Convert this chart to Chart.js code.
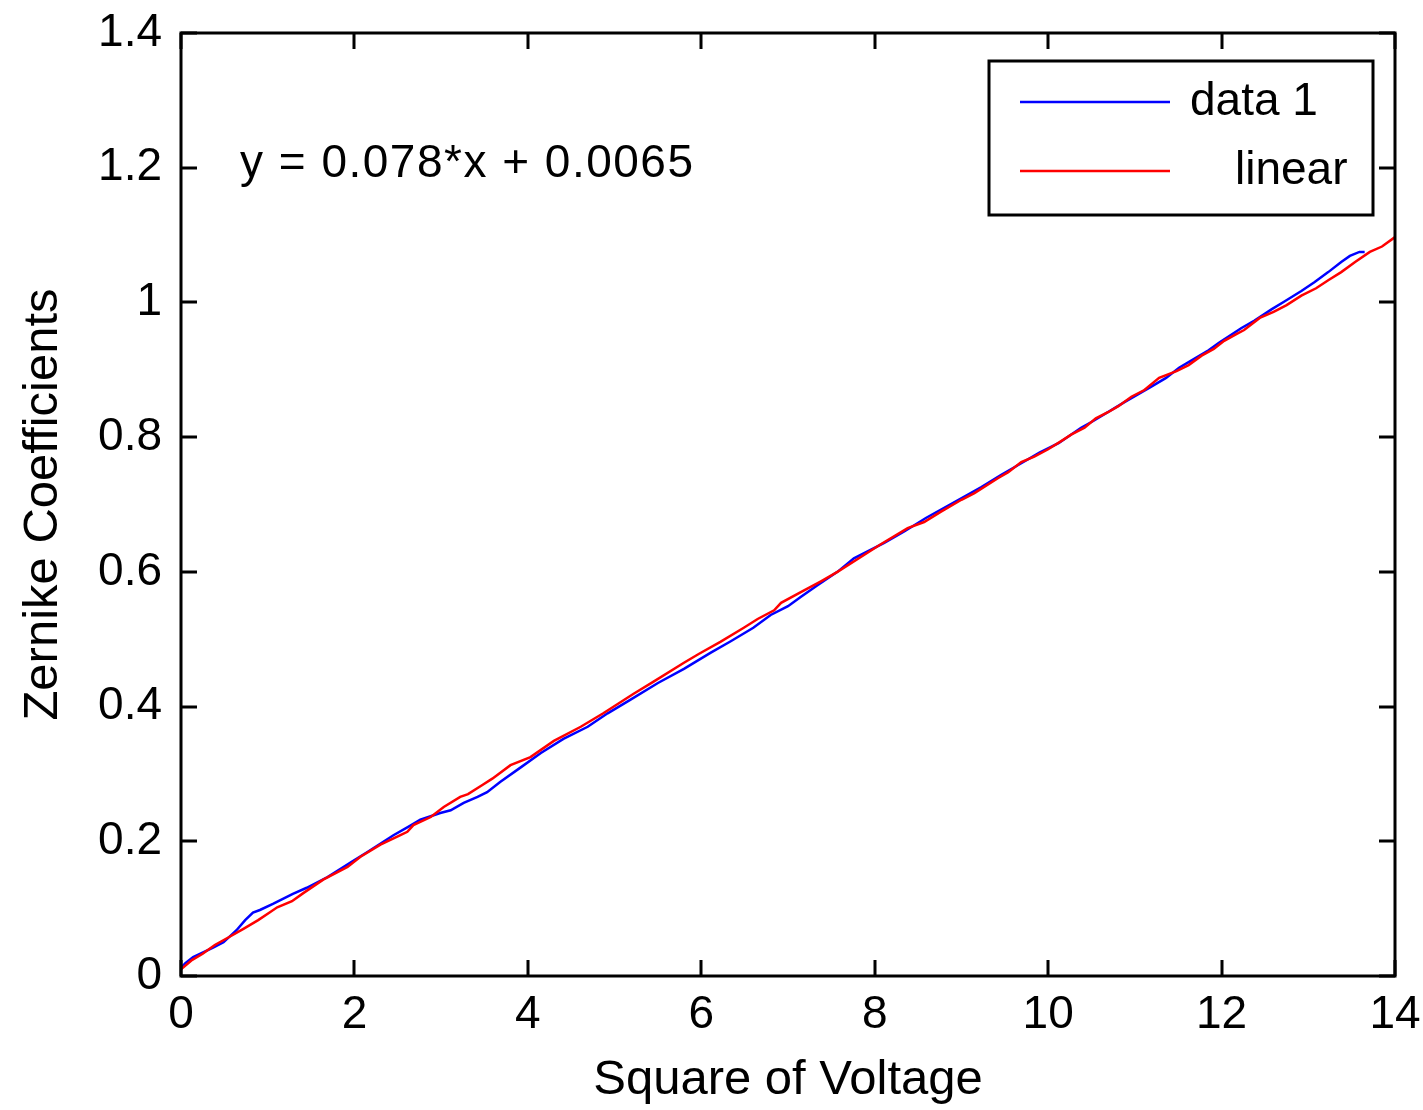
<!DOCTYPE html>
<html>
<head>
<meta charset="utf-8">
<script src="https://cdn.jsdelivr.net/npm/chart.js@4/dist/chart.umd.min.js"></script>
<style>
  html, body { margin: 0; padding: 0; background: #fff; }
  #wrap { width: 1423px; height: 1110px; }
</style>
</head>
<body>
<div id="wrap"><canvas id="zernikeChart" width="1423" height="1110"></canvas></div>
<script>
const blueX = [0, 0.05, 0.14, 0.37, 0.49, 0.64, 0.74, 0.83, 0.91, 1.06, 1.29, 1.45, 1.69, 1.95, 2.15, 2.45, 2.64, 2.76, 2.99, 3.11, 3.26, 3.42, 3.53, 3.68, 3.91, 4.15, 4.41, 4.69, 4.92, 5.18, 5.50, 5.80, 6.11, 6.34, 6.60, 6.80, 7.00, 7.15, 7.34, 7.57, 7.76, 8.11, 8.34, 8.59, 8.90, 9.23, 9.46, 9.66, 9.90, 10.12, 10.38, 10.52, 10.88, 11.19, 11.36, 11.51, 11.63, 11.85, 11.97, 12.23, 12.38, 12.58, 12.72, 12.92, 13.07, 13.23, 13.38, 13.48, 13.59, 13.65];
const blueY = [0.012, 0.019, 0.028, 0.042, 0.050, 0.068, 0.083, 0.094, 0.098, 0.107, 0.122, 0.131, 0.147, 0.168, 0.184, 0.209, 0.223, 0.232, 0.242, 0.246, 0.257, 0.266, 0.273, 0.288, 0.309, 0.331, 0.352, 0.370, 0.390, 0.410, 0.435, 0.456, 0.480, 0.497, 0.517, 0.536, 0.549, 0.563, 0.580, 0.600, 0.620, 0.643, 0.660, 0.680, 0.702, 0.726, 0.744, 0.759, 0.777, 0.791, 0.814, 0.824, 0.852, 0.875, 0.888, 0.903, 0.912, 0.929, 0.940, 0.962, 0.973, 0.990, 1.001, 1.017, 1.030, 1.045, 1.060, 1.069, 1.075, 1.075];

// "linear" curve (red)
const redX = [0, 0.13, 0.25, 0.39, 0.53, 0.72, 0.89, 1.03, 1.11, 1.28, 1.41, 1.64, 1.92, 2.07, 2.30, 2.53, 2.61, 2.68, 2.88, 3.03, 3.22, 3.31, 3.48, 3.59, 3.80, 4.03, 4.30, 4.61, 4.87, 5.22, 5.45, 5.80, 5.97, 6.22, 6.49, 6.65, 6.84, 6.92, 7.18, 7.38, 7.57, 7.84, 8.07, 8.38, 8.57, 8.76, 9.00, 9.15, 9.42, 9.54, 9.69, 9.84, 10.00, 10.15, 10.27, 10.42, 10.55, 10.69, 10.81, 10.96, 11.11, 11.28, 11.48, 11.62, 11.77, 11.91, 12.03, 12.17, 12.26, 12.44, 12.60, 12.75, 12.92, 13.09, 13.23, 13.38, 13.54, 13.71, 13.85, 14.00];
const redY = [0.010, 0.024, 0.033, 0.046, 0.056, 0.070, 0.083, 0.095, 0.102, 0.111, 0.123, 0.143, 0.162, 0.177, 0.195, 0.209, 0.214, 0.224, 0.236, 0.251, 0.266, 0.270, 0.284, 0.293, 0.313, 0.325, 0.349, 0.370, 0.390, 0.419, 0.437, 0.465, 0.478, 0.496, 0.517, 0.530, 0.543, 0.554, 0.572, 0.586, 0.600, 0.622, 0.641, 0.665, 0.674, 0.689, 0.707, 0.717, 0.739, 0.748, 0.763, 0.771, 0.782, 0.794, 0.804, 0.814, 0.828, 0.837, 0.846, 0.860, 0.870, 0.888, 0.898, 0.907, 0.921, 0.931, 0.943, 0.953, 0.959, 0.977, 0.986, 0.996, 1.010, 1.021, 1.033, 1.045, 1.060, 1.075, 1.083, 1.097];

const xTicks = [0, 2, 4, 6, 8, 10, 12, 14];
const xTickLabels = ['0', '2', '4', '6', '8', '10', '12', '14'];
const yTicks = [0, 0.2, 0.4, 0.6, 0.8, 1.0, 1.2, 1.4];
const yTickLabels = ['0', '0.2', '0.4', '0.6', '0.8', '1', '1.2', '1.4'];

const seriesNames = ['data 1', 'linear'];
const fitText = 'y = 0.078*x + 0.0065';

const FONT = '"Liberation Sans", Arial, sans-serif';

const toPoints = (xs, ys) => xs.map((x, i) => ({ x: x, y: ys[i] }));

// matlab style box with inward ticks, fit text and legend
const matlabBox = {
    id: 'matlabBox',
    afterDraw(chart) {
        const { ctx, chartArea: a, scales } = chart;
        const tl = 16;
        ctx.save();
        ctx.strokeStyle = '#000';
        ctx.lineWidth = 3;
        ctx.beginPath();
        xTicks.forEach(v => {
            const px = Math.round(scales.x.getPixelForValue(v));
            ctx.moveTo(px, a.bottom); ctx.lineTo(px, a.bottom - tl);
            ctx.moveTo(px, a.top); ctx.lineTo(px, a.top + tl);
        });
        yTicks.forEach(v => {
            const py = Math.round(scales.y.getPixelForValue(v));
            ctx.moveTo(a.left, py); ctx.lineTo(a.left + tl, py);
            ctx.moveTo(a.right, py); ctx.lineTo(a.right - tl, py);
        });
        ctx.stroke();
        ctx.strokeRect(a.left, a.top, a.right - a.left, a.bottom - a.top);

        // fit equation
        ctx.fillStyle = '#000';
        ctx.font = '46px ' + FONT;
        ctx.textBaseline = 'middle';
        ctx.textAlign = 'left';
        ctx.letterSpacing = '1.5px';
        ctx.fillText(fitText, scales.x.getPixelForValue(0.68), scales.y.getPixelForValue(1.205));
        ctx.letterSpacing = '0px';

        // legend
        const lx = 989, ly = 61, lw = 384, lh = 154;
        ctx.fillStyle = '#fff';
        ctx.fillRect(lx, ly, lw, lh);
        ctx.strokeRect(lx, ly, lw, lh);
        const colors = ['#0000ff', '#ff0000'];
        const rows = [102, 171];
        const textX = [1190, 1235];
        ctx.lineWidth = 2.5;
        rows.forEach((ry, i) => {
            ctx.strokeStyle = colors[i];
            ctx.beginPath();
            ctx.moveTo(1020, ry); ctx.lineTo(1170, ry);
            ctx.stroke();
            ctx.fillStyle = '#000';
            ctx.fillText(seriesNames[i], textX[i], ry);
        });
        ctx.restore();
    }
};

const ctx = document.getElementById('zernikeChart').getContext('2d');
new Chart(ctx, {
    type: 'line',
    data: {
        datasets: [{
            label: seriesNames[0],
            data: toPoints(blueX, blueY),
            borderColor: '#0000ff',
            borderWidth: 2.5,
            pointRadius: 0,
            tension: 0,
            order: 1
        }, {
            label: seriesNames[1],
            data: toPoints(redX, redY),
            borderColor: '#ff0000',
            borderWidth: 2.5,
            pointRadius: 0,
            tension: 0,
            order: 0
        }]
    },
    options: {
        responsive: false,
        animation: false,
        layout: { padding: { left: 0, top: 33, right: 28, bottom: 0 } },
        plugins: {
            legend: { display: false },
            tooltip: { enabled: false }
        },
        scales: {
            x: {
                type: 'linear',
                min: 0,
                max: 14,
                grid: { display: false, drawTicks: false },
                border: { display: false },
                afterBuildTicks: s => { s.ticks = xTicks.map(v => ({ value: v })); },
                afterFit: s => { s.height = 134; s.paddingLeft = 0; s.paddingRight = 0; },
                ticks: {
                    color: '#000',
                    padding: 12,
                    maxRotation: 0,
                    font: { family: FONT, size: 46 },
                    callback: (v, i) => xTickLabels[i]
                },
                title: {
                    display: true,
                    text: 'Square of Voltage',
                    color: '#000',
                    font: { family: FONT, size: 49 },
                    padding: { top: 0, bottom: 0 }
                }
            },
            y: {
                type: 'linear',
                min: 0,
                max: 1.4,
                grid: { display: false, drawTicks: false },
                border: { display: false },
                afterBuildTicks: s => { s.ticks = yTicks.map(v => ({ value: v })); },
                afterFit: s => { s.width = 181; s.paddingTop = 0; s.paddingBottom = 0; },
                ticks: {
                    color: '#000',
                    padding: 19,
                    font: { family: FONT, size: 46 },
                    callback: (v, i) => yTickLabels[i]
                },
                title: {
                    display: true,
                    text: 'Zernike Coefficients',
                    color: '#000',
                    font: { family: FONT, size: 49 },
                    padding: { top: 14, bottom: 0 }
                }
            }
        }
    },
    plugins: [matlabBox]
});
</script>
</body>
</html>
